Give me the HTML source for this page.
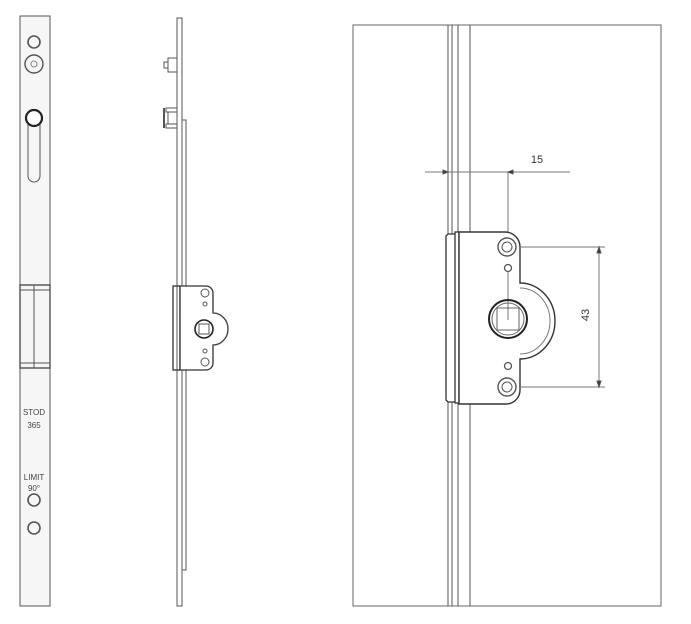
<!DOCTYPE html>
<html><head><style>html,body{margin:0;padding:0;background:#fff}svg{display:block}</style></head>
<body>
<svg width="691" height="624" viewBox="0 0 691 624" xmlns="http://www.w3.org/2000/svg" font-family="Liberation Sans, sans-serif">
<g fill="none" stroke="#555" stroke-width="1">
<rect x="20" y="16" width="30" height="590" fill="#f6f6f6"/>
<circle cx="34" cy="42" r="6" stroke-width="1.6"/>
<circle cx="34" cy="64" r="9" stroke-width="1.4"/>
<circle cx="34" cy="64" r="3" stroke="#888"/>
<path d="M28 118 V176 A6 6 0 0 0 40 176 V118" />
<circle cx="34" cy="118" r="8" stroke="#222" stroke-width="2.2" fill="#fff"/>
<rect x="20" y="285" width="30" height="83" stroke="#444" stroke-width="1.3"/>
<line x1="34" y1="285" x2="34" y2="368"/>
<line x1="20" y1="290" x2="50" y2="290"/>
<line x1="20" y1="363" x2="50" y2="363"/>
<circle cx="34" cy="500" r="6" stroke-width="1.6"/>
<circle cx="34" cy="528" r="6" stroke-width="1.6"/>
<rect x="177" y="18" width="5" height="588"/>
<rect x="182" y="120" width="4" height="450"/>
<rect x="168" y="58" width="9" height="14"/>
<path d="M168 62 h-4 v6 h4"/>
<rect x="166" y="108" width="11" height="4"/>
<rect x="166" y="124" width="11" height="4"/>
<line x1="164" y1="108" x2="164" y2="128" stroke-width="2"/>
<line x1="168" y1="112" x2="168" y2="124"/>
<rect x="173" y="286" width="7" height="84" stroke="#333" stroke-width="1.3"/>
<path d="M180 286 H206 A7 7 0 0 1 213 293 V313 A15 16 0 0 1 213 345 V363 A7 7 0 0 1 206 370 H180 Z" fill="#fff" stroke="#333" stroke-width="1.3"/>
<path d="M213 313 A15 16 0 0 1 213 345" stroke="#444"/>
<circle cx="205" cy="293" r="4"/><circle cx="205" cy="362" r="4"/>
<circle cx="205" cy="304" r="2"/><circle cx="205" cy="351" r="2"/>
<circle cx="204" cy="329" r="9" stroke="#222" stroke-width="1.6"/>
<rect x="199" y="324" width="10" height="10"/>
<rect x="353" y="25" width="308" height="581" stroke="#666"/>
<line x1="448" y1="25" x2="448" y2="606"/>
<line x1="452" y1="25" x2="452" y2="606"/>
<line x1="458" y1="25" x2="458" y2="606"/>
<line x1="470" y1="25" x2="470" y2="606"/>
<line x1="425" y1="172" x2="570" y2="172" stroke="#777"/>
<line x1="508" y1="172" x2="508" y2="232" stroke="#777"/>
<path d="M448 172 l-5 -2 v4 z M508 172 l5 -2 v4 z" fill="#333"/>
<path d="M448 234 L446 236 L446 400 L448 402 L458 402 L458 234 Z" fill="#fff" stroke="#333" stroke-width="1.3"/>
<rect x="455" y="232" width="4" height="171" stroke="#333" stroke-width="1.3" fill="#fff"/>
<path d="M459 232 H505 A15 15 0 0 1 520 247 V283 A35 38 0 0 1 520 359 V390 A14 14 0 0 1 506 404 H459 Z" fill="#fff" stroke="#333" stroke-width="1.4"/>
<path d="M520 288 A30 33 0 0 1 520 354" stroke="#777"/>
<circle cx="507" cy="247" r="9" stroke-width="1.4"/><circle cx="507" cy="247" r="5"/>
<circle cx="507" cy="387" r="9" stroke-width="1.4"/><circle cx="507" cy="387" r="5"/>
<circle cx="508" cy="268" r="3.5" stroke-width="1.3"/>
<circle cx="508" cy="366" r="3.5" stroke-width="1.3"/>
<line x1="508" y1="272" x2="508" y2="320" stroke="#777"/>
<circle cx="508" cy="319" r="19" stroke="#222" stroke-width="2"/>
<circle cx="508" cy="319" r="16" stroke="#666"/>
<rect x="497" y="308" width="22" height="22" stroke="#666"/>
<line x1="520" y1="247" x2="605" y2="247" stroke="#777"/>
<line x1="520" y1="387" x2="605" y2="387" stroke="#777"/>
<line x1="599" y1="247" x2="599" y2="387" stroke="#777"/>
<path d="M599 247 l-2 6 h4 z M599 387 l-2 -6 h4 z" fill="#333"/>
</g>
<g fill="#444" text-anchor="middle">
<text x="34" y="415" font-size="8">STOD</text>
<text x="34" y="428" font-size="8">365</text>
<text x="34" y="480" font-size="8">LIMIT</text>
<text x="34" y="491" font-size="8">90°</text>
</g>
<text x="537" y="163" font-size="11" fill="#333" text-anchor="middle">15</text>
<text x="0" y="0" font-size="11" fill="#333" text-anchor="middle" transform="translate(589 315) rotate(-90)">43</text>
</svg>
</body></html>
